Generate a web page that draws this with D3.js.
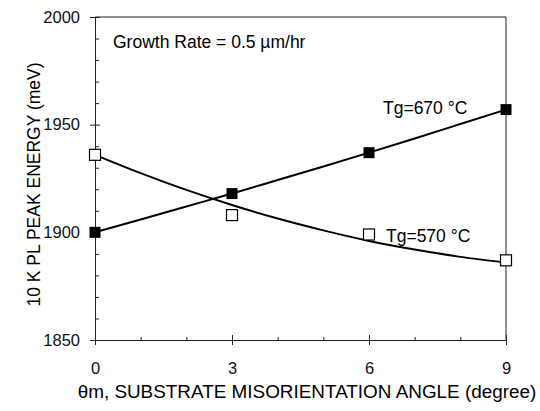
<!DOCTYPE html>
<html>
<head>
<meta charset="utf-8">
<script src="https://cdn.jsdelivr.net/npm/d3@7"></script>
<style>
  body { margin: 0; background: #fff; }
  svg { display: block; font-family: "Liberation Sans", Arial, sans-serif; }
  .domain { stroke: #222; }
  .tick line { stroke: #222; }
</style>
</head>
<body>
<div id="chart"></div>
<script>
// measured points
const angles = [0, 3, 6, 9];
const tg670 = [1900, 1918, 1937, 1957];
const tg570 = [1936, 1908, 1899, 1887];

// fitted curves
const fitAngles = [0, 1, 2, 3, 4, 5, 6, 7, 8, 9];
const fit670 = [1900, 1906, 1912, 1918, 1924.3, 1930.6, 1937, 1943.6, 1950.3, 1957];
const fit570 = [1936, 1927.5, 1919.7, 1912.7, 1906.4, 1900.9, 1896, 1892, 1888.6, 1886];

const xTicks = [0, 3, 6, 9];
const xMinor = [1, 2, 4, 5, 7, 8];
const yTicks = [1850, 1900, 1950, 2000];
const yMinor = [1860, 1870, 1880, 1890, 1910, 1920, 1930, 1940, 1960, 1970, 1980, 1990];

const width = 540, height = 411;
const plotL = 95, plotR = 506, plotT = 17, plotB = 340;

const svg = d3.select("#chart").append("svg")
  .attr("width", width)
  .attr("height", height);

const x = d3.scaleLinear().domain([0, 9]).range([plotL, plotR]);
const y = d3.scaleLinear().domain([1850, 2000]).range([plotB, plotT]);

// frame top + right
svg.append("path")
  .attr("d", `M${plotL},${plotT}H${plotR}V${plotB}`)
  .attr("fill", "none")
  .attr("stroke", "#222")
  .attr("stroke-width", 1);

// left axis: majors crossing, minors inward
svg.append("g")
  .attr("transform", `translate(${plotL},0)`)
  .call(d3.axisLeft(y).tickValues(yTicks).tickSize(5).tickPadding(10).tickFormat(d3.format("d")))
  .call(g => g.selectAll("text").attr("font-size", 16.5).attr("fill", "#111").attr("font-family", null));
svg.append("g")
  .attr("transform", `translate(${plotL},0)`)
  .call(d3.axisLeft(y).tickValues(yTicks).tickSize(-5).tickFormat(""))
  .call(g => g.select(".domain").remove());
svg.append("g")
  .attr("transform", `translate(${plotL},0)`)
  .call(d3.axisLeft(y).tickValues(yMinor).tickSize(-4).tickFormat(""))
  .call(g => g.select(".domain").remove());

// bottom axis
svg.append("g")
  .attr("transform", `translate(0,${plotB})`)
  .call(d3.axisBottom(x).tickValues(xTicks).tickSize(5).tickPadding(17))
  .call(g => g.selectAll("text").attr("font-size", 16.5).attr("fill", "#111").attr("font-family", null));
svg.append("g")
  .attr("transform", `translate(0,${plotB})`)
  .call(d3.axisBottom(x).tickValues(xTicks).tickSize(-5).tickFormat(""))
  .call(g => g.select(".domain").remove());
svg.append("g")
  .attr("transform", `translate(0,${plotB})`)
  .call(d3.axisBottom(x).tickValues(xMinor).tickSize(-3).tickFormat(""))
  .call(g => g.select(".domain").remove());

// curves
const line = d3.line()
  .x((d, i) => x(fitAngles[i]))
  .y(d => y(d))
  .curve(d3.curveMonotoneX);

svg.append("path")
  .datum(fit670)
  .attr("d", line)
  .attr("fill", "none")
  .attr("stroke", "#000")
  .attr("stroke-width", 2);

svg.append("path")
  .datum(fit570)
  .attr("d", line)
  .attr("fill", "none")
  .attr("stroke", "#000")
  .attr("stroke-width", 2);

// markers
const ms = 11;
svg.selectAll("rect.open")
  .data(tg570)
  .enter()
  .append("rect")
  .attr("class", "open")
  .attr("x", (d, i) => x(angles[i]) - ms / 2)
  .attr("y", d => y(d) - ms / 2)
  .attr("width", ms)
  .attr("height", ms)
  .attr("fill", "#fff")
  .attr("stroke", "#000")
  .attr("stroke-width", 1.2);

svg.selectAll("rect.filled")
  .data(tg670)
  .enter()
  .append("rect")
  .attr("class", "filled")
  .attr("x", (d, i) => x(angles[i]) - ms / 2)
  .attr("y", d => y(d) - ms / 2)
  .attr("width", ms)
  .attr("height", ms)
  .attr("fill", "#000");

// annotations
svg.append("text")
  .attr("x", 113).attr("y", 48)
  .attr("font-size", 17.5)
  .text("Growth Rate = 0.5 µm/hr");

svg.append("text")
  .attr("x", 383).attr("y", 114)
  .attr("font-size", 17.5)
  .text("Tg=670 °C");

svg.append("text")
  .attr("x", 386).attr("y", 242)
  .attr("font-size", 17.5)
  .text("Tg=570 °C");

// axis titles
svg.append("text")
  .attr("x", 307).attr("y", 398)
  .attr("text-anchor", "middle")
  .attr("font-size", 18.9)
  .text("θm, SUBSTRATE MISORIENTATION ANGLE (degree)");

svg.append("text")
  .attr("transform", `translate(40,${(plotT + plotB) / 2 + 6}) rotate(-90)`)
  .attr("text-anchor", "middle")
  .attr("font-size", 17.5)
  .text("10 K PL PEAK ENERGY (meV)");
</script>
</body>
</html>
